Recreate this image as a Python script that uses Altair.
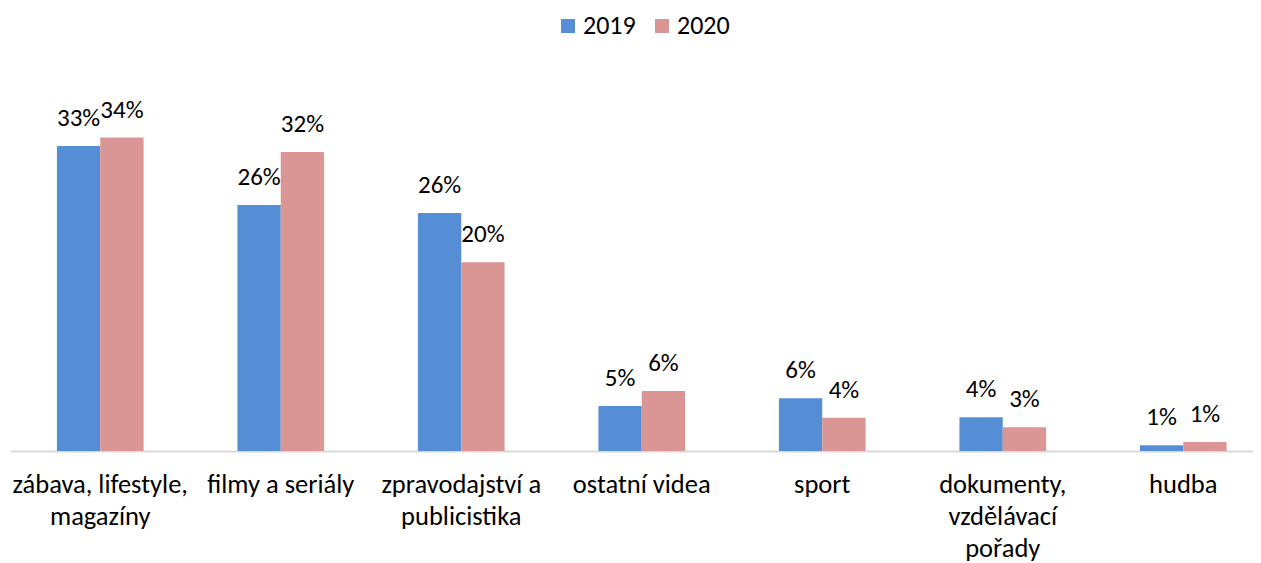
import altair as alt
import pandas as pd

categories = ["zábava, lifestyle, magazíny", "filmy a seriály", "zpravodajství a publicistika",
              "ostatní videa", "sport", "dokumenty, vzdělávací pořady", "hudba"]
label_lines = [["zábava, lifestyle,", "magazíny"], ["filmy a seriály"], ["zpravodajství a", "publicistika"],
               ["ostatní videa"], ["sport"], ["dokumenty,", "vzdělávací", "pořady"], ["hudba"]]
years = ["2019", "2020"]
values_2019 = [32.8, 26.45, 25.6, 4.84, 5.67, 3.62, 0.61]
values_2020 = [33.7, 32.15, 20.3, 6.45, 3.58, 2.55, 0.97]
colors = ["#558ED5", "#D99694"]

FONT = "Carlito, Lato, sans-serif"

rows = []
for c, v19, v20 in zip(categories, values_2019, values_2020):
    for y, v in zip(years, (v19, v20)):
        rows.append({"category": c, "year": y, "value": v, "label": f"{round(v)}%"})
df = pd.DataFrame(rows)

expr = ""
for c, lines in zip(categories, label_lines):
    arr = "[" + ",".join("'" + l + "'" for l in lines) + "]"
    expr += f"datum.value == '{c}' ? {arr} : "
expr += "datum.label"

base = alt.Chart(df).encode(
    x=alt.X("category:N", sort=categories,
            scale=alt.Scale(range=[0, 1263.5], paddingInner=0.52, paddingOuter=0.26),
            axis=alt.Axis(title=None, labelAngle=0, ticks=False, domainColor="#D9D9D9",
                          domainWidth=2, labelFont=FONT, labelFontSize=26.5, labelColor="#000000",
                          labelLimit=0, labelLineHeight=32, labelPadding=20,
                          labelBaseline="top", labelExpr=expr)),
    xOffset=alt.XOffset("year:N", sort=years),
    y=alt.Y("value:Q", scale=alt.Scale(domain=[0, 40]), axis=None),
)

bars = base.mark_bar().encode(
    color=alt.Color("year:N", sort=years, scale=alt.Scale(domain=years, range=colors),
                    legend=alt.Legend(title=None, orient="none", legendX=545, legendY=-66,
                                      direction="horizontal", symbolType="square", symbolSize=196,
                                      symbolStrokeWidth=0, labelFont=FONT, labelFontSize=26,
                                      labelColor="#000000", labelOffset=2, columnPadding=13,
                                      padding=0))
)

text = base.mark_text(dy=-20, baseline="alphabetic", fontSize=25, font=FONT, color="#000000").encode(
    text="label:N"
)

chart = (bars + text).properties(
    width=1243, height=372,
    autosize=alt.AutoSizeParams(type="none"),
    padding={"left": 2, "top": 71, "right": 0, "bottom": 112},
    background="white",
).configure_view(stroke=None)

chart.save("out.html", embed_options={"renderer": "svg", "actions": False})
